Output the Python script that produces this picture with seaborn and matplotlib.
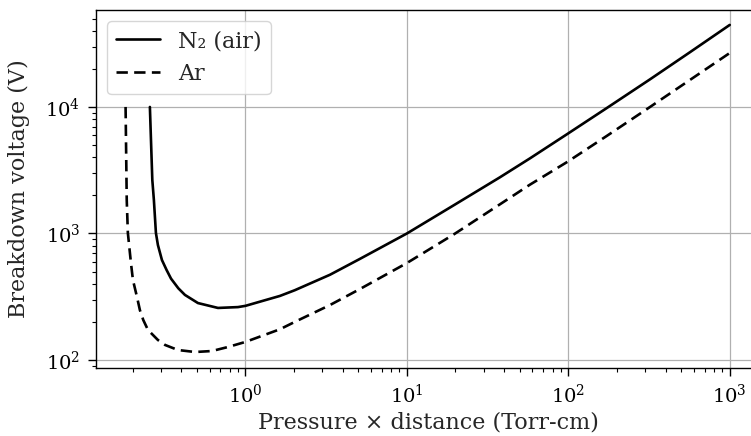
import matplotlib
matplotlib.use("Agg")
import matplotlib.pyplot as plt
import seaborn as sns
import pandas as pd

# Paschen curves
n2_pd = [0.256, 0.260, 0.265, 0.271, 0.279, 0.287, 0.304, 0.325, 0.346, 0.384, 0.422, 0.508,
         0.676, 0.899, 1.0, 1.635, 2.02, 3.34, 5.12, 10.0, 19.8, 37.7, 57.8, 99.3, 173.0,
         320.0, 565.0, 1000.0]
n2_v = [10000, 5480, 2650, 1841, 1009, 811, 617, 514, 440, 369, 327, 282,
        258, 262, 268, 321, 356, 472, 630, 1000, 1690, 2780, 3920, 6150, 9800,
        16500, 27000, 44500]

ar_pd = [0.181, 0.184, 0.187, 0.1954, 0.201, 0.213, 0.222, 0.233, 0.249, 0.287, 0.318,
         0.382, 0.487, 0.620, 0.779, 1.0, 1.635, 2.02, 3.34, 5.12, 10.0, 19.8,
         37.7, 57.8, 99.3, 173.0, 306.0, 565.0, 1000.0]
ar_v = [10000, 1841, 1009, 585, 429, 315, 248, 207, 173, 144, 131.5,
        120, 115.7, 117.8, 126.7, 139, 175, 200, 272, 364, 584, 995,
        1700, 2430, 3700, 5900, 9600, 16300, 26700]

labels = ["N\u2082 (air)", "Ar"]

df = pd.concat([
    pd.DataFrame({"pd": n2_pd, "V": n2_v, "gas": labels[0]}),
    pd.DataFrame({"pd": ar_pd, "V": ar_v, "gas": labels[1]}),
])

sns.set_style("ticks")
plt.rcParams["font.family"] = ["DejaVu Serif"]
plt.rcParams["mathtext.fontset"] = "dejavuserif"

fig = plt.figure(figsize=(7.5102, 4.3602), dpi=100)
ax = fig.add_axes([96 / 751, 1 - 368 / 436, (760 - 96) / 751, (368 - 10) / 436])

sns.lineplot(data=df, x="pd", y="V", style="gas", color="black",
             dashes={labels[0]: "", labels[1]: (4.3, 2.4)}, linewidth=1.9,
             sort=False, estimator=None, ax=ax)

ax.set_xscale("log")
ax.set_yscale("log")
ax.set_xlim(0.1187, 1540)
ax.set_ylim(86.5, 58400)
ax.grid(True, which="major", color="#b0b0b0", linewidth=0.9)
ax.set_axisbelow(True)
ax.tick_params(which="both", direction="out", labelsize=14, colors="black", pad=5.5)
ax.tick_params(which="major", length=5.8, width=1.0)
ax.tick_params(which="minor", length=3.2, width=0.8)
for s in ax.spines.values():
    s.set_color("black")
    s.set_linewidth(1.0)
ax.spines["right"].set_visible(False)

ax.set_xlabel("Pressure \u00d7 distance (Torr-cm)", fontsize=16, labelpad=3)
ax.set_ylabel("Breakdown voltage (V)", fontsize=16, labelpad=11)

leg = ax.legend(loc="upper left", fontsize=16, frameon=True, framealpha=0.8,
                edgecolor="#cccccc", fancybox=True, handlelength=2.0)
leg.set_title(None)

fig.savefig("out.png", dpi=100)
